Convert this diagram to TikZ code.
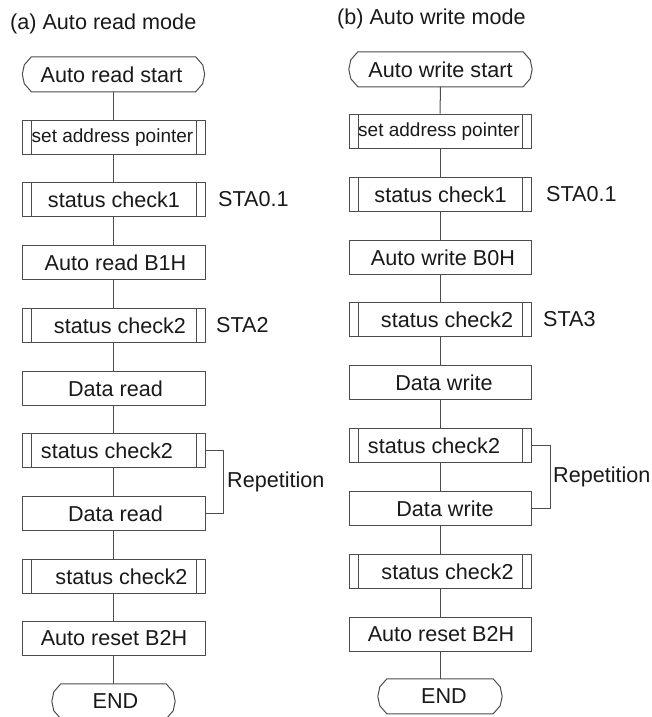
\documentclass[tikz,border=0pt]{standalone}
\usepackage{fontspec}
\setmainfont{Liberation Sans}
\usetikzlibrary{calc}
\newcommand\sh[2]{\hspace*{#1pt}#2}
\begin{document}
\begin{tikzpicture}[x=1pt,y=-1pt,
  every node/.style={font=\fontsize{21.6}{24}\selectfont, text=black!90},
  ln/.style={line width=1pt, draw=black!70},
  proc/.style={ln, rectangle, inner sep=0pt, minimum width=183pt, minimum height=34.5pt},
  sub/.style={proc, path picture={
     \draw[ln] ([xshift=9pt]path picture bounding box.north west) -- ([xshift=9pt]path picture bounding box.south west);
     \draw[ln] ([xshift=-9pt]path picture bounding box.north east) -- ([xshift=-9pt]path picture bounding box.south east);}},
  term/.style={rectangle, inner sep=0pt, minimum height=34.5pt},
  lab/.style={anchor=west, inner sep=0pt},
  small/.style={font=\fontsize{19}{22}\selectfont}
]
\useasboundingbox (0,0) rectangle (652,717);

% titles
\node[lab] (ta) at (10,24) {(a) Auto read mode};
\node[lab] (tb) at (337,19) {(b) Auto write mode};

% ---------- left column ----------
\node[term, minimum width=182pt] (a0) at (113.5,74.3) {\sh{-4}{Auto read start}};
\node[sub, small] (a1) at (113.5,137.3) {\sh{-2}{set address pointer}};
\node[sub] (a2) at (113.5,199.3) {\sh{1}{status check1}};
\node[proc] (a3) at (113.5,262.3) {\sh{4}{Auto read B1H}};
\node[sub] (a4) at (113.5,325.3) {\sh{13}{status check2}};
\node[proc] (a5) at (113.5,388.3) {\sh{4}{Data read}};
\node[sub] (a6) at (113.5,450.3) {\sh{-13}{status check2}};
\node[proc] (a7) at (113.5,513.3) {\sh{4}{Data read}};
\node[sub] (a8) at (113.5,576.3) {\sh{16}{status check2}};
\node[proc] (a9) at (113.5,638.3) {\sh{1}{Auto reset B2H}};
\node[term, minimum width=123pt] (a10) at (113.5,701.3) {\sh{4}{END}};

\foreach \n in {a0,a10}{
  \draw[ln] ($(\n.north west)+(9,0)$) -- ($(\n.north east)+(-9,0)$) -- ($(\n.north east)+(-2,8)$) -- (\n.east)
    -- ($(\n.south east)+(-2,-8)$) -- ($(\n.south east)+(-9,0)$) -- ($(\n.south west)+(9,0)$)
    -- ($(\n.south west)+(2,-8)$) -- (\n.west) -- ($(\n.north west)+(2,8)$) -- cycle;
}
\foreach \u/\v in {a0/a1,a1/a2,a2/a3,a3/a4,a4/a5,a5/a6,a6/a7,a7/a8,a8/a9,a9/a10}
  \draw[ln] (\u.south) -- (\v.north);

\node[lab] (sa2) at (218,199.3) {STA0.1};
\node[lab] (sa4) at (216,325.3) {STA2};
\draw[ln] (a6.east) -- ++(18,0) coordinate (ra) |- (a7.east);
\node[lab] (repa) at (227,482) {Repetition};

% ---------- right column ----------
\node[term, minimum width=183pt] (b0) at (440.5,69.3) {\sh{0}{Auto write start}};
\node[sub, small, minimum width=182pt] (b1) at (440,131.3) {\sh{-2}{set address pointer}};
\node[sub, minimum width=182pt] (b2) at (440,194.3) {\sh{1}{status check1}};
\node[proc, minimum width=182pt] (b3) at (440,257.3) {\sh{6}{Auto write B0H}};
\node[sub, minimum width=182pt] (b4) at (440,319.3) {\sh{14}{status check2}};
\node[proc, minimum width=182pt] (b5) at (440,382.3) {\sh{8}{Data write}};
\node[sub, minimum width=182pt] (b6) at (440,445.3) {\sh{-12}{status check2}};
\node[proc, minimum width=182pt] (b7) at (440,508.3) {\sh{10}{Data write}};
\node[sub, minimum width=182pt] (b8) at (440,571.3) {\sh{15}{status check2}};
\node[proc, minimum width=182pt] (b9) at (440,634.3) {\sh{2}{Auto reset B2H}};
\node[term, minimum width=124pt] (b10) at (440,696.3) {\sh{8}{END}};

\foreach \n in {b0,b10}{
  \draw[ln] ($(\n.north west)+(9,0)$) -- ($(\n.north east)+(-9,0)$) -- ($(\n.north east)+(-2,8)$) -- (\n.east)
    -- ($(\n.south east)+(-2,-8)$) -- ($(\n.south east)+(-9,0)$) -- ($(\n.south west)+(9,0)$)
    -- ($(\n.south west)+(2,-8)$) -- (\n.west) -- ($(\n.north west)+(2,8)$) -- cycle;
}
\foreach \u/\v in {b0/b1,b1/b2,b2/b3,b3/b4,b4/b5,b5/b6,b6/b7,b7/b8,b8/b9,b9/b10}
  \draw[ln] (\u.south) -- (\v.north);

\node[lab] (sb2) at (546,194.3) {STA0.1};
\node[lab] (sb4) at (543,319.3) {STA3};
\draw[ln] (b6.east) -- ++(19,0) coordinate (rb) |- (b7.east);
\node[lab] (repb) at (553,477) {Repetition};
\end{tikzpicture}
\end{document}
